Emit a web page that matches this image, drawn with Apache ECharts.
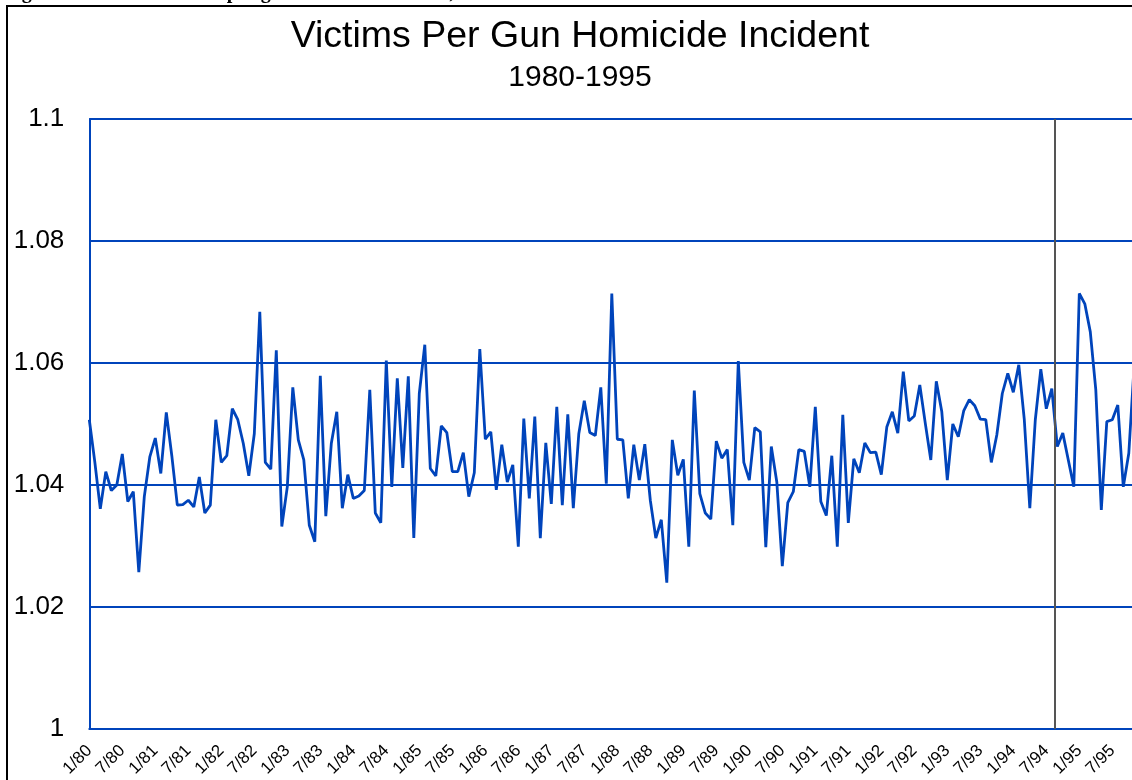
<!DOCTYPE html>
<html>
<head>
<meta charset="utf-8">
<script src="https://cdn.jsdelivr.net/npm/echarts@6/dist/echarts.min.js"></script>
<style>
html,body{margin:0;padding:0;background:#fff;overflow:hidden;width:1132px;height:780px;}
#chart{width:1160px;height:780px;}
</style>
</head>
<body>
<div id="chart"></div>
<script>
var tickLabels = ['1/80','7/80','1/81','7/81','1/82','7/82','1/83','7/83','1/84','7/84',
  '1/85','7/85','1/86','7/86','1/87','7/87','1/88','7/88','1/89','7/89',
  '1/90','7/90','1/91','7/91','1/92','7/92','1/93','7/93','1/94','7/94','1/95','7/95'];

var victimsPerIncident = [
  1.0507,1.0438,1.0361,1.0422,1.0391,1.0400,1.0451,1.0373,1.0389,1.0257,
  1.0381,1.0446,1.0477,1.0419,1.0519,1.0448,1.0367,1.0368,1.0375,1.0364,
  1.0413,1.0354,1.0367,1.0507,1.0437,1.0448,1.0525,1.0507,1.0468,1.0415,
  1.0484,1.0684,1.0437,1.0426,1.0621,1.0332,1.0397,1.0560,1.0474,1.0441,
  1.0334,1.0307,1.0579,1.0349,1.0468,1.0520,1.0362,1.0417,1.0378,1.0382,
  1.0391,1.0556,1.0354,1.0338,1.0604,1.0397,1.0575,1.0428,1.0578,1.0313,
  1.0550,1.0630,1.0427,1.0415,1.0497,1.0486,1.0422,1.0422,1.0453,1.0381,
  1.0420,1.0623,1.0475,1.0487,1.0392,1.0466,1.0405,1.0433,1.0299,1.0509,
  1.0378,1.0512,1.0313,1.0469,1.0369,1.0528,1.0367,1.0516,1.0362,1.0484,
  1.0538,1.0486,1.0481,1.0560,1.0402,1.0714,1.0475,1.0474,1.0378,1.0466,
  1.0408,1.0467,1.0375,1.0313,1.0343,1.0240,1.0474,1.0416,1.0442,1.0299,
  1.0555,1.0386,1.0354,1.0344,1.0472,1.0444,1.0458,1.0334,1.0603,1.0437,
  1.0408,1.0494,1.0487,1.0298,1.0463,1.0405,1.0267,1.0371,1.0389,1.0458,
  1.0455,1.0397,1.0528,1.0373,1.0350,1.0448,1.0299,1.0515,1.0338,1.0443,
  1.0420,1.0469,1.0453,1.0454,1.0417,1.0495,1.0520,1.0485,1.0586,1.0505,
  1.0513,1.0564,1.0501,1.0441,1.0570,1.0520,1.0408,1.0500,1.0479,1.0522,
  1.0540,1.0530,1.0508,1.0507,1.0437,1.0482,1.0550,1.0583,1.0552,1.0597,
  1.0507,1.0362,1.0507,1.0590,1.0525,1.0558,1.0463,1.0485,1.0441,1.0397,
  1.0714,1.0697,1.0651,1.0556,1.0359,1.0504,1.0507,1.0531,1.0397,1.0452,
  1.0600
];

var markerMonth = 175.5;
var titleText = 'Victims Per Gun Homicide Incident';
var subtitleText = '1980-1995';
var figureLabel = 'Figure 6-2.';
var figureCaption = 'Victims per gun homicide incident, 1980-95';

var seriesData = victimsPerIncident.map(function (v, i) { return [i, v]; });
var blue = '#0044BB';
var font = '"Liberation Sans", Arial, sans-serif';

var chart = echarts.init(document.getElementById('chart'), null, {renderer: 'canvas'});
chart.setOption({
  animation: false,
  backgroundColor: '#fff',
  title: [
    {text: titleText, left: 575, top: 13, textAlign: 'center',
     textStyle: {fontFamily: font, fontSize: 37.5, fontWeight: 'normal', color: '#000'}},
    {text: subtitleText, left: 575, top: 58, textAlign: 'center',
     textStyle: {fontFamily: font, fontSize: 30, fontWeight: 'normal', color: '#000'}}
  ],
  graphic: [
    {type: 'rect', shape: {x: 7, y: 6, width: 1300, height: 1000}, silent: true,
     style: {fill: 'none', stroke: '#000', lineWidth: 2}},
    {type: 'text', x: 4, y: 3, silent: true,
     style: {text: figureLabel, fontFamily: '"Liberation Serif", serif', fontWeight: 'bold', fontSize: 20, fill: '#000', verticalAlign: 'bottom'}},
    {type: 'text', x: 157, y: 3, silent: true,
     style: {text: figureCaption, fontFamily: '"Liberation Serif", serif', fontWeight: 'bold', fontSize: 20, fill: '#000', verticalAlign: 'bottom'}}
  ],
  grid: {left: 89.3, top: 119, width: 1050.5, height: 610, containLabel: false},
  xAxis: {
    type: 'value', min: 0, max: 191, interval: 6,
    axisLine: {show: true, onZero: false, lineStyle: {color: blue, width: 2}},
    axisTick: {show: false},
    splitLine: {show: false},
    axisLabel: {
      rotate: 45, margin: 19, fontFamily: font, fontSize: 17, color: '#000',
      showMaxLabel: false,
      formatter: function (v) { return (v % 6 === 0) ? (tickLabels[v / 6] || '') : ''; }
    }
  },
  yAxis: {
    type: 'value', min: 1, max: 1.1, interval: 0.02,
    axisLine: {show: true, lineStyle: {color: blue, width: 2}},
    axisTick: {show: false},
    splitLine: {show: true, lineStyle: {color: blue, width: 2}},
    axisLabel: {margin: 25, fontFamily: font, fontSize: 26, color: '#000', padding: [8, 0, 0, 0]}
  },
  series: [{
    type: 'line',
    data: seriesData,
    showSymbol: false,
    symbol: 'none',
    lineStyle: {color: blue, width: 2.8},
    clip: true,
    markLine: {
      silent: true, symbol: 'none', label: {show: false},
      lineStyle: {color: '#555', width: 2, type: 'solid'},
      data: [{xAxis: markerMonth}]
    }
  }]
});
</script>
</body>
</html>
